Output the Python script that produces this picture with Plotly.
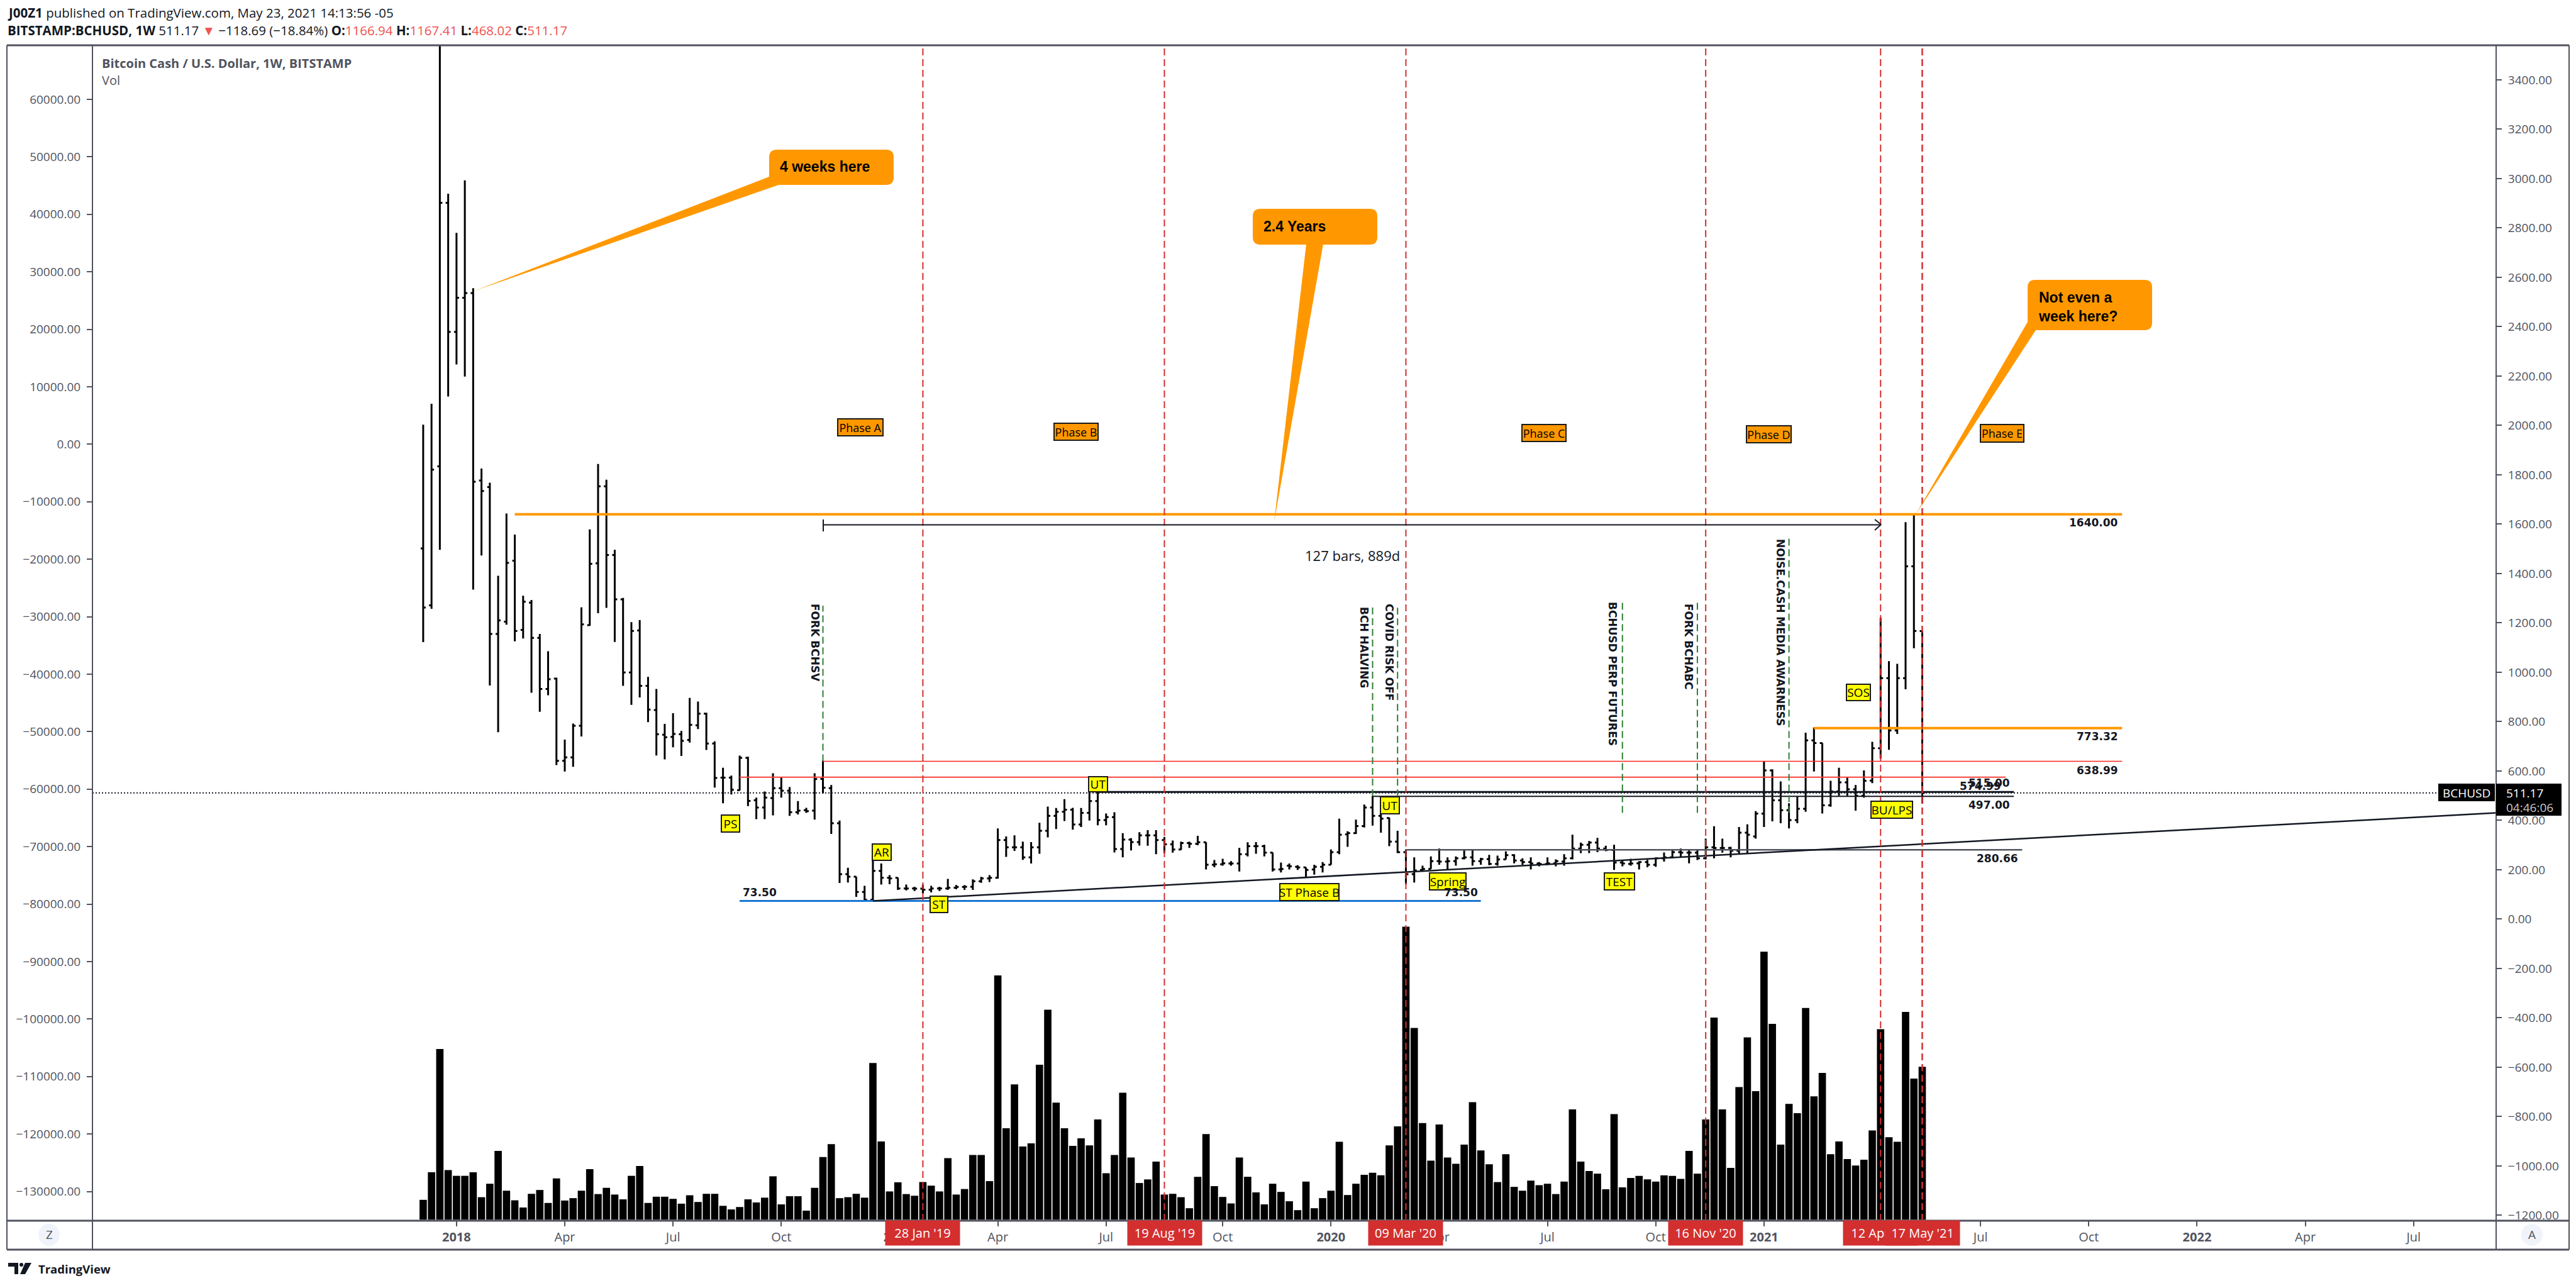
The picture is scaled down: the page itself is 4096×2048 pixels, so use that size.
import pandas as pd
import plotly.graph_objs as go

# weekly bars, Dec 2017 -> May 2021
DATES = pd.date_range("2017-12-04", periods=181, freq="7D")

OPENS = [1502, 1271, 1834, 2902, 2379, 2517, 2536, 1777, 1750, 1155,
         1205, 1452, 1172, 1282, 1139, 932, 974, 641, 655, 783,
         1191, 1441, 1753, 1475, 1295, 999, 1169, 945, 847, 747,
         738, 749, 726, 785, 832, 711, 573, 573, 522, 653,
         481, 452, 490, 530, 520, 433, 441, 439, 568, 530,
         388, 182, 172, 110, 78, 195, 167, 167, 124, 124,
         123, 119, 124, 124, 127, 130, 131, 153, 165, 167,
         320, 291, 291, 250, 291, 358, 418, 435, 443, 383,
         430, 478, 401, 413, 284, 322, 312, 339, 339, 320,
         303, 282, 308, 305, 311, 220, 222, 225, 225, 263,
         295, 295, 269, 201, 216, 212, 209, 201, 212, 220,
         271, 343, 348, 377, 452, 418, 409, 314, 271, 182,
         199, 203, 235, 233, 235, 246, 250, 235, 243, 223,
         242, 259, 237, 231, 225, 223, 226, 233, 246, 286,
         301, 310, 286, 280, 229, 223, 226, 231, 220, 246,
         250, 271, 269, 269, 246, 291, 288, 288, 277, 350,
         335, 427, 602, 481, 441, 401, 447, 724, 713, 461,
         517, 554, 526, 500, 561, 692, 976, 764, 976, 1429, 1166.94]
HIGHS = [2003, 2088, 4000, 2939, 2780, 2993, 2556, 1825, 1768, 1391,
         1643, 1558, 1310, 1293, 1155, 1085, 978, 727, 792, 1263,
         1579, 1844, 1780, 1496, 1301, 1203, 1211, 981, 932, 791,
         834, 762, 896, 881, 836, 720, 613, 581, 662, 658,
         492, 517, 591, 574, 535, 478, 451, 591, 642, 543,
         399, 208, 172, 135, 265, 225, 178, 168, 140, 131,
         140, 135, 131, 163, 138, 137, 161, 171, 178, 367,
         335, 339, 314, 312, 390, 456, 450, 486, 451, 450,
         574, 515, 428, 433, 348, 328, 352, 360, 360, 333,
         318, 314, 314, 337, 311, 239, 244, 235, 288, 311,
         312, 301, 270, 229, 225, 218, 209, 220, 231, 282,
         407, 356, 403, 464, 499, 470, 411, 358, 282, 250,
         216, 254, 286, 250, 254, 280, 282, 248, 260, 257,
         274, 263, 246, 250, 231, 250, 242, 263, 342, 310,
         316, 329, 297, 301, 237, 244, 235, 240, 250, 270,
         278, 286, 280, 280, 326, 376, 326, 293, 373, 384,
         437, 638, 607, 558, 469, 496, 755, 776, 713, 560,
         613, 574, 543, 602, 718, 1221, 1045, 1034, 1608, 1640, 1167.41]
LOWS = [1122, 1257, 1496, 2117, 2247, 2198, 1335, 1473, 946, 757,
        1193, 1125, 1137, 917, 840, 907, 624, 598, 617, 740,
        1188, 1239, 1261, 1123, 945, 868, 898, 798, 663, 647,
        696, 661, 715, 770, 685, 533, 469, 505, 521, 458,
        405, 405, 420, 492, 418, 424, 430, 403, 509, 345,
        146, 148, 90, 73.5, 74, 140, 141, 118, 116, 114,
        104, 108, 114, 118, 121, 118, 118, 147, 150, 164,
        252, 276, 240, 225, 265, 331, 365, 397, 362, 373,
        399, 380, 380, 270, 250, 278, 298, 297, 263, 267,
        269, 280, 288, 299, 201, 210, 216, 216, 193, 254,
        265, 254, 193, 189, 201, 199, 167, 180, 189, 220,
        263, 293, 345, 371, 379, 350, 295, 267, 141, 148,
        195, 203, 220, 201, 216, 242, 216, 220, 218, 216,
        242, 226, 220, 201, 214, 219, 214, 216, 242, 267,
        267, 271, 275, 199, 214, 216, 201, 210, 212, 233,
        246, 250, 226, 239, 242, 246, 269, 250, 263, 267,
        326, 373, 396, 388, 367, 388, 435, 598, 428, 455,
        500, 499, 439, 492, 551, 650, 686, 750, 931, 1097, 468.02]
CLOSES = [1262, 1821, 2902, 2379, 2517, 2536, 1772, 1734, 1155, 1210,
          1443, 1167, 1286, 1139, 932, 972, 641, 655, 783, 1194,
          1439, 1753, 1475, 1295, 999, 1167, 945, 849, 749, 737,
          750, 722, 787, 832, 711, 572, 573, 524, 653, 479,
          452, 492, 530, 520, 433, 439, 437, 567, 532, 388,
          182, 172, 110, 78, 195, 167, 165, 124, 124, 123,
          119, 124, 124, 127, 130, 131, 153, 165, 167, 320,
          291, 291, 250, 291, 358, 418, 435, 443, 383, 430,
          478, 401, 413, 284, 322, 312, 339, 339, 320, 303,
          282, 308, 305, 311, 220, 222, 226, 225, 263, 295,
          295, 269, 201, 203, 214, 209, 199, 212, 220, 271,
          342, 348, 377, 452, 418, 407, 314, 271, 182, 197,
          203, 235, 233, 235, 246, 250, 235, 243, 223, 242,
          259, 237, 231, 225, 223, 226, 235, 246, 286, 301,
          310, 286, 280, 229, 225, 225, 231, 220, 246, 250,
          271, 269, 269, 246, 291, 288, 288, 277, 350, 342,
          427, 602, 481, 441, 401, 447, 724, 713, 461, 517,
          554, 526, 500, 560, 692, 976, 764, 976, 1429, 1167, 511.17]
# volume read as bar heights, arbitrary units (own hidden axis)
VOLUMES = [83, 198, 711, 207, 183, 183, 198, 94, 150, 287,
           121, 81, 51, 108, 124, 70, 172, 80, 90, 121,
           211, 107, 133, 105, 85, 183, 224, 70, 96, 96,
           87, 67, 102, 74, 108, 108, 58, 43, 53, 85,
           72, 92, 181, 64, 98, 98, 38, 133, 261, 315,
           90, 94, 108, 92, 653, 326, 118, 156, 107, 100,
           157, 142, 118, 257, 105, 128, 270, 270, 161, 1018,
           381, 564, 305, 318, 646, 875, 488, 381, 308, 339,
           310, 418, 194, 270, 529, 259, 153, 168, 242, 105,
           108, 94, 48, 179, 357, 140, 95, 68, 259, 179,
           114, 64, 150, 116, 77, 40, 159, 48, 90, 121,
           325, 103, 150, 187, 196, 185, 310, 389, 1221, 799,
           403, 246, 397, 259, 233, 313, 490, 289, 231, 157,
           273, 137, 121, 163, 144, 150, 107, 159, 460, 242,
           203, 192, 127, 440, 135, 174, 183, 168, 159, 185,
           183, 170, 287, 192, 418, 842, 460, 216, 553, 760,
           536, 1117, 816, 313, 483, 444, 882, 514, 612, 273,
           326, 253, 226, 250, 372, 794, 344, 325, 866, 588, 637]

TICK_DATES = ["2018-01-01", "2018-04-02", "2018-07-02", "2018-10-01", "2019-01-07", "2019-04-01",
              "2019-07-01", "2019-10-07", "2020-01-06", "2020-04-06", "2020-07-06", "2020-10-05",
              "2021-01-04", "2021-04-05", "2021-07-05", "2021-10-04", "2022-01-03", "2022-04-04",
              "2022-07-04"]
TICK_LABELS = ["<b>2018</b>", "Apr", "Jul", "Oct", "<b>2019</b>", "Apr", "Jul", "Oct", "<b>2020</b>", "Apr", "Jul",
               "Oct", "<b>2021</b>", "Apr", "Jul", "Oct", "<b>2022</b>", "Apr", "Jul"]

RED_DATES = ["2019-01-28", "2019-08-19", "2020-03-09", "2020-11-16", "2021-04-12", "2021-05-17"]
RED_LABELS = ["28 Jan '19", "19 Aug '19", "09 Mar '20", "16 Nov '20", "12 Apr '21", "17 May '21"]
RED_BOX_X = [1467, 1852, 2235, 2712, 2990, 3057]

# price, start, end, colour, width
LEVELS = [
    (1640, "2018-02-19", "2021-11-01", "#ff9800", 4),
    (773.32, "2021-02-15", "2021-11-01", "#ff9800", 4),
    (638.99, "2018-11-05", "2021-11-01", "#f7251c", 1.5),
    (574.99, "2018-08-27", "2021-07-26", "#f7453c", 2),
    (515, "2019-06-24", "2021-08-02", "#131722", 3),
    (497, "2020-02-10", "2021-08-02", "#131722", 2),
    (280.66, "2020-03-09", "2021-08-09", "#50535e", 2.5),
    (73.5, "2018-08-27", "2020-05-11", "#1976d2", 3),
]
TREND_DATES = ["2018-12-17", "2022-09-11 09:00"]
TREND_PRICES = [73.5, 430]

# date, top price, bottom price
EVENTS = [
    ("2018-11-05", 1270, 639),
    ("2020-02-10", 1270, 498),
    ("2020-03-02", 1265, 497),
    ("2020-09-07", 1288, 430),
    ("2020-11-09", 1288, 430),
    ("2021-01-25", 1555, 430),
]
EVENT_TEXT = [("FORK BCHSV", 1296, 1022), ("BCH HALVING", 2169, 1029), ("COVID RISK OFF", 2209, 1037),
              ("BCHUSD PERP FUTURES", 2564, 1071), ("FORK BCHABC", 2685, 1028),
              ("NOISE.CASH MEDIA AWARNESS", 2831, 1006)]

# text, x0, x1, y0, y1
YELLOW = [("PS", 1148, 1175, 1297, 1322), ("AR", 1388, 1416, 1343, 1367), ("ST", 1480, 1506, 1426, 1450),
          ("UT", 1732, 1760, 1236, 1258), ("ST Phase B", 2036, 2128, 1406, 1431), ("UT", 2196, 2224, 1268, 1293),
          ("Spring", 2274, 2330, 1389, 1414), ("TEST", 2552, 2598, 1389, 1414), ("SOS", 2937, 2973, 1089, 1113),
          ("BU/LPS", 2976, 3040, 1275, 1300)]
PHASES = [("Phase A", 1333, 1403, 667, 692), ("Phase B", 1677, 1745, 674, 699), ("Phase C", 2421, 2489, 676, 701),
          ("Phase D", 2778, 2847, 678, 703), ("Phase E", 3150, 3217, 676, 702)]
LEVEL_TEXT = [("1640.00", 3369, 831), ("773.32", 3369, 1171), ("638.99", 3369, 1225), ("515.00", 3197, 1245),
              ("574.99", 3183, 1250), ("497.00", 3197, 1280), ("280.66", 3210, 1365)]

# canvas layout, pixels
W, H = 4096, 2048
L, R, T, B = 147, 3969, 72, 1941
AXIS = "#50535e"
RED = "#d32f2f"
ORANGE = "#ff9800"
SANS = "Open Sans"
VERDANA = "DejaVu Sans"


def fx(x):
    return (x - L) / (R - L)


def fy(y):
    return 1 - (y - T) / (B - T)


annotations = []
shapes = []


def text(x, y, s, size=19, color="#000000", family=SANS, xanchor="left", **kw):
    annotations.append(dict(x=fx(x), y=fy(y), xref="paper", yref="paper", text=s, showarrow=False, xanchor=xanchor,
                            yanchor="middle", font=dict(size=size, color=color, family=family), borderpad=0, **kw))


def box_text(s, x0, x1, y0, y1, bg, border=None, color="#000000", size=19):
    kw = dict(bordercolor=border, borderwidth=2) if border else {}
    text((x0 + x1) / 2, (y0 + y1) / 2, s, size=size, color=color, xanchor="center", bgcolor=bg, width=x1 - x0,
         height=y1 - y0, align="center", **kw)


def pline(x0, y0, x1, y1, color=AXIS, width=2):
    shapes.append(dict(type="line", xref="paper", yref="paper", x0=fx(x0), y0=fy(y0), x1=fx(x1), y1=fy(y1),
                       line=dict(color=color, width=width)))


def path(points, color):
    d = "M " + " L ".join("%f,%f" % (fx(a), fy(b)) for a, b in points) + " Z"
    shapes.append(dict(type="path", xref="paper", yref="paper", path=d, fillcolor=color, line=dict(width=0)))


def round_rect(x0, x1, y0, y1, r, color):
    d = ("M %f,%f L %f,%f Q %f,%f %f,%f L %f,%f Q %f,%f %f,%f L %f,%f Q %f,%f %f,%f L %f,%f Q %f,%f %f,%f Z" % (
        fx(x0 + r), fy(y0), fx(x1 - r), fy(y0), fx(x1), fy(y0), fx(x1), fy(y0 + r),
        fx(x1), fy(y1 - r), fx(x1), fy(y1), fx(x1 - r), fy(y1),
        fx(x0 + r), fy(y1), fx(x0), fy(y1), fx(x0), fy(y1 - r),
        fx(x0), fy(y0 + r), fx(x0), fy(y0), fx(x0 + r), fy(y0)))
    shapes.append(dict(type="path", xref="paper", yref="paper", path=d, fillcolor=color, line=dict(width=0)))


ohlc = go.Ohlc(x=DATES, open=OPENS, high=HIGHS, low=LOWS, close=CLOSES, yaxis="y", tickwidth=0.3,
               increasing=dict(line=dict(color="#000000", width=3)),
               decreasing=dict(line=dict(color="#000000", width=3)), hoverinfo="skip")
vol = go.Bar(x=DATES, y=VOLUMES, yaxis="y3", marker=dict(color="#000000", line=dict(width=0)), hoverinfo="skip")

# price levels, trend line, last price
for price, d0, d1, color, width in LEVELS:
    shapes.append(dict(type="line", xref="x", yref="y", x0=d0, x1=d1, y0=price, y1=price,
                       line=dict(color=color, width=width)))
shapes.append(dict(type="line", xref="x", yref="y", x0=TREND_DATES[0], x1=TREND_DATES[1], y0=TREND_PRICES[0],
                   y1=TREND_PRICES[1], line=dict(color="#131722", width=2.5)))
shapes.append(dict(type="line", xref="paper", yref="y", x0=0, x1=fx(3877), y0=511.17, y1=511.17,
                   line=dict(color="#131722", width=2, dash="2px,3px")))

# dashed verticals
for d, top, bottom in EVENTS:
    shapes.append(dict(type="line", xref="x", yref="y", x0=d, x1=d, y0=bottom, y1=top,
                       line=dict(color="#2e7d32", width=2, dash="11px,6px")))
for i, d in enumerate(RED_DATES):
    shapes.append(dict(type="line", xref="x", yref="paper", x0=d, x1=d, y0=0, y1=1,
                       line=dict(color=RED, width=2.5 if i == 5 else 2, dash="11px,6px")))

# measure arrow
shapes.append(dict(type="line", xref="x", yref="y", x0="2018-11-05", x1="2021-04-12", y0=1597, y1=1597,
                   line=dict(color="#131722", width=2)))
pline(1309, 826, 1309, 845, "#131722", 2)
pline(2981, 826, 2991, 834, "#131722", 2)
pline(2981, 843, 2991, 834, "#131722", 2)

# callouts
round_rect(1223, 1421, 238, 294, 12, ORANGE)
path([(753, 463), (1223, 281), (1238, 294)], ORANGE)
round_rect(1992, 2190, 332, 389, 12, ORANGE)
path([(2026, 830), (2077, 388), (2104, 388)], ORANGE)
round_rect(3224, 3422, 445, 525, 12, ORANGE)
path([(3046, 818), (3224, 512), (3237, 525)], ORANGE)
text(1239, 265, "<b>4 weeks here</b>", size=23, family="Liberation Sans")
text(2008, 360, "<b>2.4 Years</b>", size=23, family="Liberation Sans")
text(3240, 488, "<b>Not even a<br>week here?</b>", size=23, family="Liberation Sans", align="left")

# frame
pline(11, T, 4085, T, AXIS, 3)
pline(11, B, 4085, B, AXIS, 3)
pline(11, 1987, 4085, 1987, AXIS, 3)
pline(11, T, 11, 1987)
pline(L, T, L, 1987)
pline(R, T, R, 1987)
pline(4085, T, 4085, 1987)

# price tag
path([(3877, 1246), (3967, 1246), (3967, 1274), (3877, 1274)], "#000000")
path([(3969, 1246), (4073, 1246), (4073, 1297), (3969, 1297)], "#000000")
text(3922, 1261, "BCHUSD", color="#ffffff", xanchor="center")
text(3984, 1261, "511.17", color="#ffffff")
text(3984, 1284, "04:46:06", color="#c8c8cc")

# Z / A buttons
for cx in (78, 4026):
    shapes.append(dict(type="circle", xref="paper", yref="paper", x0=fx(cx - 17), x1=fx(cx + 17), y0=fy(1981),
                       y1=fy(1946), fillcolor="#f0f3fa", line=dict(width=0)))
text(78, 1963, "Z", color=AXIS, xanchor="center")
text(4026, 1963, "A", color=AXIS, xanchor="center")

# header
text(11, 20, "<b>J00Z1</b> published on TradingView.com, May 23, 2021 14:13:56 -05", size=20.5, color="#131722")
red = '<span style="color:#ef5350">%s</span>'
text(11, 48, "<b>BITSTAMP:BCHUSD, 1W</b> 511.17 " + red % "▼" + " −118.69 (−18.84%) <b>O:</b>" + red % "1166.94" +
     " <b>H:</b>" + red % "1167.41" + " <b>L:</b>" + red % "468.02" + " <b>C:</b>" + red % "511.17",
     size=20.5, color="#131722")
text(161, 100, "<b>Bitcoin Cash / U.S. Dollar, 1W, BITSTAMP</b>", size=20, color=AXIS)
text(161, 128, "Vol", size=20, color=AXIS)

# logo
path([(13, 2008), (29, 2008), (29, 2026), (23, 2026), (23, 2014), (13, 2014)], "#131722")
path([(40, 2008), (50, 2008), (40, 2026), (32, 2026)], "#131722")
shapes.append(dict(type="circle", xref="paper", yref="paper", x0=fx(31), x1=fx(37), y0=fy(2014), y1=fy(2008),
                   fillcolor="#131722", line=dict(width=0)))
text(60, 2017, "<b>TradingView</b>", size=18.5, color="#131722")

# labels
for s, x0, x1, y0, y1 in YELLOW:
    box_text(s, x0, x1, y0, y1, "#ffff00", "#1a1a1a")
for s, x0, x1, y0, y1 in PHASES:
    box_text(s, x0, x1, y0, y1, ORANGE, "#1a1a1a", size=18)
for s, x, y in LEVEL_TEXT:
    text(x, y, "<b>%s</b>" % s, size=17, color="#131722", family=VERDANA, xanchor="right")
text(1208, 1419, "<b>73.50</b>", size=17, color="#131722", family=VERDANA, xanchor="center")
text(2323, 1419, "<b>73.50</b>", size=17, color="#131722", family=VERDANA, xanchor="center")
text(2150, 883, "127 bars, 889d", size=22, color="#131722", xanchor="center")
for s, x, y in EVENT_TEXT:
    text(x, y, "<b>%s</b>" % s, size=17, color="#131722", family=VERDANA, xanchor="center", textangle=90)
for s, x in zip(RED_LABELS, RED_BOX_X):
    box_text(s, x - 59, x + 59, 1941, 1980, "#d32f2f", color="#ffffff", size=20)

tick_font = dict(size=19, color=AXIS, family=SANS)
layout = go.Layout(
    width=W, height=H, autosize=False, margin=dict(l=L, r=W - R, t=T, b=H - B, pad=0),
    paper_bgcolor="#ffffff", plot_bgcolor="#ffffff", showlegend=False, bargap=0.12, font=dict(family=SANS),
    hovermode=False,
    xaxis=dict(type="date", range=["2017-03-01", "2022-09-11 09:00"], tickvals=TICK_DATES, ticktext=TICK_LABELS,
               tickangle=0, ticks="outside", ticklen=8, tickwidth=2, tickcolor=AXIS, tickfont=dict(size=20, color=AXIS,
               family=SANS), showgrid=False, zeroline=False, showline=False, rangeslider=dict(visible=False)),
    yaxis=dict(side="right", range=[-1222, 3540], tick0=0, dtick=200, tickformat=".2f", ticks="outside", ticklen=8,
               tickwidth=2, tickcolor=AXIS, tickfont=tick_font, showgrid=False, zeroline=False, showline=False,
               ticklabelstandoff=6),
    yaxis2=dict(side="left", overlaying="y", range=[-135077, 69409], tick0=0, dtick=10000, tickformat=".2f",
                ticks="outside", ticklen=8, tickwidth=2, tickcolor=AXIS, tickfont=tick_font, showgrid=False,
                zeroline=False, showline=False, ticklabelstandoff=6),
    yaxis3=dict(overlaying="y", visible=False, range=[-4, 4893]),
    shapes=shapes, annotations=annotations)

# empty trace so the left scale is drawn
left_scale = go.Scatter(x=[DATES[0]], y=[0], yaxis="y2", mode="markers", marker=dict(opacity=0), hoverinfo="skip")

fig = go.Figure(data=[ohlc, vol, left_scale], layout=layout)
fig.write_html("out.html", config={"displayModeBar": False}, post_script="document.body.style.margin='0';")
